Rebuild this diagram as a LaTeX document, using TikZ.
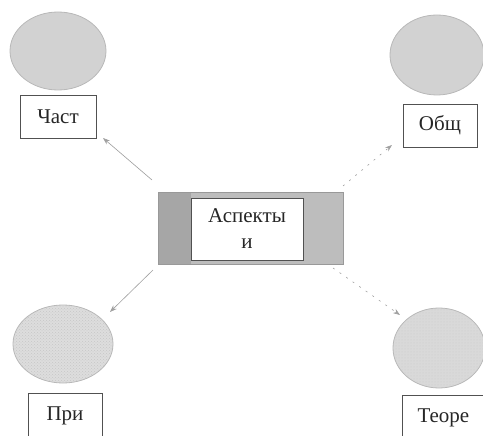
\documentclass[tikz,border=0pt]{standalone}
\usepackage{fontspec}
\setmainfont{Liberation Serif}
\usetikzlibrary{shapes.geometric,arrows.meta,patterns}
\definecolor{ellfill}{HTML}{D2D2D2}
\definecolor{ellline}{HTML}{B8B8B8}
\definecolor{txt}{HTML}{262626}
\definecolor{arr}{HTML}{A0A0A0}
\tikzset{
  blob/.style={ellipse, draw=ellline, line width=0.8pt, fill=ellfill, inner sep=0pt},
  lbl/.style={rectangle, draw=txt!80, line width=0.8pt, fill=white, inner sep=0pt, font=\fontsize{21}{24}\selectfont, text=txt},
  conn/.style={draw=arr, line width=0.6pt, -{Stealth[length=7pt,width=5pt]}},
  dconn/.style={conn, dash pattern=on 2pt off 6pt}
}
\begin{document}
\begin{tikzpicture}[x=1pt,y=-1pt]
\useasboundingbox (0,0) rectangle (483,436);
% ellipses
\node[blob, minimum width=96pt, minimum height=78pt] (e1) at (58,51) {};
\node[blob, minimum width=94pt, minimum height=80pt] (e2) at (437,55) {};
\node[blob, fill=ellfill!75, minimum width=100pt, minimum height=78pt] (e3) at (63,344) {};
\node[blob, fill=ellfill!85, minimum width=92pt, minimum height=80pt] (e4) at (439,348) {};
\fill[pattern=crosshatch dots, pattern color=gray!45] (63,344) ellipse [x radius=49pt, y radius=38pt];
\fill[pattern=dots, pattern color=gray!40] (439,348) ellipse [x radius=45pt, y radius=39pt];
% label boxes
\node[lbl, minimum width=76pt, minimum height=43pt] (b1) at (58,116.5) {Част};
\node[lbl, minimum width=74pt, minimum height=43pt] (b2) at (440,125.5) {Общ};
\node[lbl, minimum width=74pt, minimum height=46pt] (b3) at (65,416) {При};
\node[lbl, minimum width=82pt, minimum height=44pt, anchor=north west] (b4) at (402,395) {Теоре};
% center
\fill[gray!52] (158,192) rectangle (343,264);
\fill[gray!70] (158,192) rectangle (191,264);
\draw[gray!80, line width=0.8pt] (158,192) rectangle (343,264);
\node[lbl, minimum width=112pt, minimum height=62pt, align=center, font=\fontsize{21}{26}\selectfont] (c) at (247,229) {Аспекты\\и};
% arrow ends
\coordinate (s1) at (152,180);
\coordinate (s2) at (343,186);
\coordinate (s3) at (153,270);
\coordinate (s4) at (333,268);
\coordinate (t1) at (103,138);
\coordinate (t2) at (392,145);
\coordinate (t3) at (110,312);
\coordinate (t4) at (400,315);
\draw[conn] (s1) -- (t1);
\draw[dconn] (s2) -- (t2);
\draw[conn] (s3) -- (t3);
\draw[dconn] (s4) -- (t4);
\end{tikzpicture}
\end{document}
